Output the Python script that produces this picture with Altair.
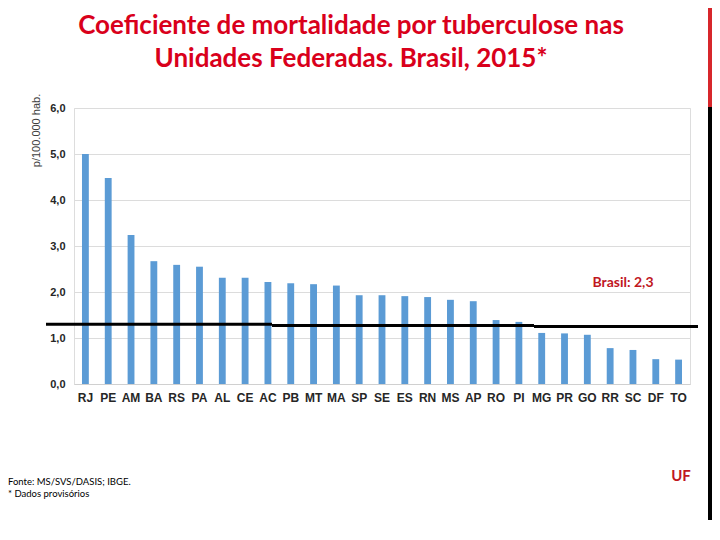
import altair as alt
import pandas as pd

ufs = ["RJ", "PE", "AM", "BA", "RS", "PA", "AL", "CE", "AC", "PB", "MT", "MA", "SP", "SE",
       "ES", "RN", "MS", "AP", "RO", "PI", "MG", "PR", "GO", "RR", "SC", "DF", "TO"]
coef = [5.0, 4.48, 3.24, 2.67, 2.59, 2.55, 2.31, 2.31, 2.22, 2.19, 2.17, 2.14, 1.93, 1.93,
        1.91, 1.89, 1.83, 1.80, 1.39, 1.35, 1.11, 1.10, 1.07, 0.78, 0.74, 0.54, 0.53]
y_ticks = [0, 1, 2, 3, 4, 5, 6]
brasil_line = [1.30, 1.27, 1.25]

title_lines = ["Coeficiente de mortalidade por tuberculose nas", "Unidades Federadas. Brasil, 2015*"]
source_lines = ["Fonte: MS/SVS/DASIS; IBGE.", "* Dados provisórios"]

df = pd.DataFrame({"UF": ufs, "coef": coef})

W, H = 616, 276

base = alt.Chart(df)

bars = base.mark_bar(color="#5B9BD5").encode(
    x=alt.X("UF:N", sort=ufs,
            scale=alt.Scale(paddingInner=0.7, paddingOuter=0.35),
            axis=alt.Axis(title=None, labelAngle=0, labelFont="Liberation Sans",
                          labelFontWeight="bold", labelFontSize=12, labelColor="#262626",
                          labelPadding=8, ticks=False, domain=True, domainColor="#D0D0D0")),
    y=alt.Y("coef:Q", scale=alt.Scale(domain=[0, 6]),
            axis=alt.Axis(values=y_ticks, title="p/100.000 hab.",
                          labelExpr="replace(format(datum.value, '.1f'), '.', ',')",
                          labelFont="Liberation Sans", labelFontWeight="bold", labelFontSize=11,
                          labelColor="#262626", labelPadding=9,
                          ticks=False, domain=False, gridColor="#DCDCDC",
                          titleFont="Liberation Sans", titleFontSize=11, titleFontWeight="normal",
                          titleColor="#404040", titleX=-38, titleY=22, titleAngle=-90,
                          titleAlign="center", titleBaseline="middle")),
)

def rule_seg(val, x0, x1):
    return alt.Chart(pd.DataFrame({"v": [val]})).mark_rule(color="black", strokeWidth=3).encode(
        y="v:Q", x=alt.value(x0), x2=alt.value(x1))

rules = [rule_seg(brasil_line[0], -28, 198),
         rule_seg(brasil_line[1], 198, 460),
         rule_seg(brasil_line[2], 460, 624)]

def text_layer(txt, x, y, size, color, weight="normal", font="Lato", align="center"):
    return alt.Chart(pd.DataFrame({"t": [txt]})).mark_text(
        font=font, fontSize=size, color=color, fontWeight=weight, align=align,
        baseline="alphabetic").encode(x=alt.value(x), y=alt.value(y), text="t:N")

texts = [
    text_layer(title_lines[0], 277, -74, 26, "#D9001B", "bold"),
    text_layer(title_lines[1], 277, -41, 26, "#D9001B", "bold"),
    text_layer("Brasil: 2,3", 549, 179, 14, "#C0171F", "bold"),
    text_layer("UF", 607, 373, 15, "#C0171F", "bold"),
    text_layer(source_lines[0], -66, 377, 9.5, "#000000", "normal", "Lato", "left"),
    text_layer(source_lines[1], -66, 389, 9.5, "#000000", "normal", "Lato", "left"),
]

strip_red = alt.Chart(pd.DataFrame({"a": [0]})).mark_rect(color="#D7262B").encode(
    x=alt.value(634), x2=alt.value(646), y=alt.value(-108), y2=alt.value(-1))
strip_black = alt.Chart(pd.DataFrame({"a": [0]})).mark_rect(color="#000000").encode(
    x=alt.value(634), x2=alt.value(646), y=alt.value(-1), y2=alt.value(412))

chart = alt.layer(bars, *rules, *texts, strip_red, strip_black).properties(
    width=W, height=H,
    autosize=alt.AutoSizeParams(type="none"),
    padding={"left": 66, "top": 100, "right": 22, "bottom": 144},
).configure_view(stroke=None).configure(background="white")

chart.save("out.html", embed_options={"renderer": "svg", "actions": False})
